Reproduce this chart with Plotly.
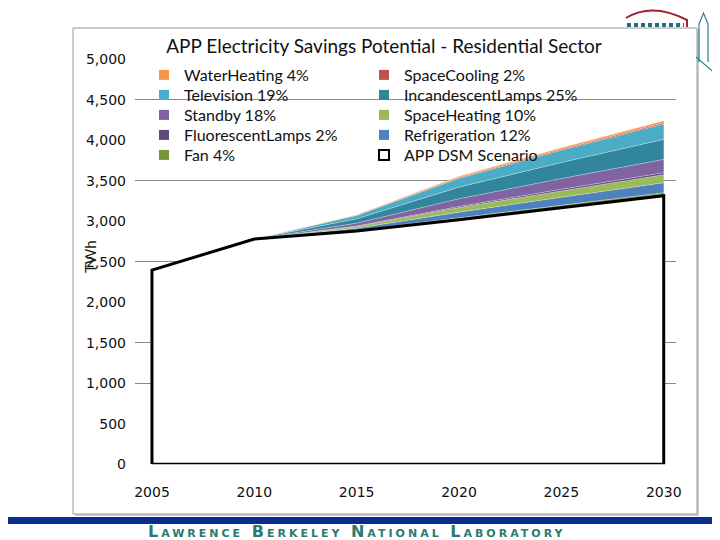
import plotly.graph_objects as go

# ---------------- data ----------------
years = [2005, 2010, 2015, 2020, 2025, 2030]
dsm_scenario = [2398, 2780, 2880, 3020, 3168, 3315]

fan = [0, 0, 8, 21, 30, 37]
refrigeration = [0, 0, 27, 71, 98, 123]
space_heating = [0, 0, 21, 57, 79, 99]
fluorescent = [0, 0, 5, 14, 20, 25]
standby = [0, 0, 36, 95, 132, 165]
incandescent = [0, 0, 53, 143, 198, 247]
television = [0, 0, 41, 109, 151, 189]
space_cooling = [0, 0, 4, 10, 13, 16]
water_heating = [0, 0, 5, 15, 19, 24]

# stacking order bottom -> top: (name, values, colour, legend slot (column,row))
layers = [
    ("Fan 4%", fan, "#77933C", (0, 4)),
    ("Refrigeration 12%", refrigeration, "#4F81BD", (1, 3)),
    ("SpaceHeating 10%", space_heating, "#9BBB59", (1, 2)),
    ("FluorescentLamps 2%", fluorescent, "#604A7B", (0, 3)),
    ("Standby 18%", standby, "#8064A2", (0, 2)),
    ("IncandescentLamps 25%", incandescent, "#31859C", (1, 1)),
    ("Television 19%", television, "#4BACC6", (0, 1)),
    ("SpaceCooling 2%", space_cooling, "#C0504D", (1, 0)),
    ("WaterHeating 4%", water_heating, "#F79646", (0, 0)),
]
dsm_name = "APP DSM Scenario"
dsm_slot = (1, 4)

y_ticks = [0, 500, 1000, 1500, 2000, 2500, 3000, 3500, 4000, 4500, 5000]
y_ticktext = ["0", "500", "1,000", "1,500", "2,000", "2,500", "3,000", "3,500", "4,000", "4,500", "5,000"]
grid_vals = [0, 1000, 1500, 2500, 3500, 4500, 5000]
x_ticks = [2005, 2010, 2015, 2020, 2025, 2030]

W, H = 720, 540
OFF = 8  # page body margin
def px(x): return (x - OFF) / W
def py(y): return 1 - (y - OFF) / H

TICK_FONT = dict(family="DejaVu Sans", size=14, color="#111")
TEXT_FONT = "Lato"

fig = go.Figure()

# base of the stack: DSM scenario (invisible)
fig.add_trace(go.Scatter(x=years, y=dsm_scenario, stackgroup="s", fill="none",
                         line=dict(width=0, color="rgba(0,0,0,0)"),
                         showlegend=False, hoverinfo="skip"))
for name, vals, col, slot in layers:
    fig.add_trace(go.Scatter(x=years, y=vals, stackgroup="s", fill="tonexty",
                             fillcolor=col, line=dict(width=0.6, color="rgba(255,255,255,0.55)"),
                             showlegend=False, name=name))
# DSM scenario as closed outlined area
fig.add_trace(go.Scatter(x=[years[0]] + years + [years[-1], years[0]],
                         y=[0] + dsm_scenario + [0, 0],
                         fill="toself", fillcolor="white", mode="lines",
                         line=dict(color="black", width=3),
                         showlegend=False, name=dsm_name))

# legend entries (square swatches), each in its own positioned legend
def legend_id(slot):
    idx = slot[1] * 2 + slot[0]
    return "legend" if idx == 0 else f"legend{idx + 1}"

for name, vals, col, slot in layers:
    fig.add_trace(go.Scatter(x=[None], y=[None], mode="markers", name=name,
                             marker=dict(symbol="square", size=10, color=col),
                             legend=legend_id(slot)))
fig.add_trace(go.Scatter(x=[None], y=[None], mode="markers", name=dsm_name,
                         marker=dict(symbol="square", size=10, color="white",
                                     line=dict(color="black", width=2)),
                         legend=legend_id(dsm_slot)))

# gridline-only overlay axis
fig.add_trace(go.Scatter(x=[None], y=[None], yaxis="y2", showlegend=False))

col_x = [144, 364]
row_y = [75, 95, 115, 135, 155]
legends = {}
for c in range(2):
    for r in range(5):
        legends[legend_id((c, r))] = dict(
            x=px(col_x[c]), y=py(row_y[r]), xanchor="left", yanchor="middle",
            font=dict(family=TEXT_FONT, size=16, color="#111"),
            bgcolor="rgba(0,0,0,0)", itemwidth=30)

shapes = [
    # chart frame shadow + frame
    dict(type="rect", xref="paper", yref="paper", x0=px(75), x1=px(699), y0=py(516), y1=py(30),
         fillcolor="#cfcfcf", line=dict(width=0), layer="below"),
    dict(type="rect", xref="paper", yref="paper", x0=px(73), x1=px(697), y0=py(514), y1=py(28),
         fillcolor="white", line=dict(color="#9a9a9a", width=1), layer="below"),
    # footer band
    dict(type="rect", xref="paper", yref="paper", x0=px(0), x1=px(730), y0=py(524), y1=py(517),
         fillcolor="#0b2e8e", line=dict(width=0)),
    # logo: dome arc
    dict(type="path", xref="paper", yref="paper",
         path=f"M{px(626)},{py(18)} Q{px(652)},{py(2)} {px(687)},{py(20)} L{px(687)},{py(27)}",
         line=dict(color="#a31f34", width=2)),
    dict(type="line", xref="paper", yref="paper", x0=px(627), x1=px(684), y0=py(25), y1=py(25),
         line=dict(color="#1f6f7a", width=4, dash="4px,3px")),
    # logo: tower
    dict(type="path", xref="paper", yref="paper",
         path=f"M{px(699)},{py(62)} L{px(699)},{py(24)} L{px(703.5)},{py(13)} L{px(708)},{py(24)} L{px(708)},{py(62)}",
         line=dict(color="#2a7f8a", width=1.2)),
    dict(type="line", xref="paper", yref="paper", x0=px(696), x1=px(718), y0=py(57), y1=py(76),
         line=dict(color="#2a7f8a", width=1.2)),
]

annotations = [
    dict(text="TWh", x=px(79), y=py(257), xref="paper", yref="paper", showarrow=False,
         textangle=-90, font=dict(family=TEXT_FONT, size=15, color="#222")),
    dict(text='<span style="letter-spacing:3px">Lawrence Berkeley National Laboratory</span>',
         x=px(357), y=py(520), xref="paper", yref="paper", yanchor="top",
         showarrow=False, font=dict(family="DejaVu Sans", size=16, color="#2b7a6f",
                                    variant="small-caps", weight="bold")),
]

fig.update_layout(
    width=W, height=H, autosize=False,
    margin=dict(l=0, r=0, t=0, b=0),
    paper_bgcolor="white", plot_bgcolor="rgba(0,0,0,0)",
    title=dict(text="APP Electricity Savings Potential - Residential Sector",
               x=px(384), y=py(46), xanchor="center", yanchor="middle",
               font=dict(family=TEXT_FONT, size=19, color="#111")),
    xaxis=dict(domain=[px(135), px(676)], range=[2004.17, 2030.6], tickvals=x_ticks,
               showgrid=False, zeroline=False, showline=False, ticks="", automargin=False,
               tickfont=TICK_FONT, ticklabelstandoff=18),
    yaxis=dict(domain=[py(464.3), py(59.1)], range=[0, 5002], tickvals=y_ticks, ticktext=y_ticktext,
               showgrid=False, zeroline=False, showline=False, ticks="", automargin=False,
               tickfont=TICK_FONT, ticklabelstandoff=8),
    yaxis2=dict(overlaying="y", matches="y", tickvals=grid_vals, showticklabels=False,
                showgrid=True, gridcolor="#8a8a8a", gridwidth=1, zeroline=False, ticks="",
                automargin=False, layer="below traces"),
    shapes=shapes,
    annotations=annotations,
    showlegend=True,
    **legends,
)

fig.write_html("out.html")
